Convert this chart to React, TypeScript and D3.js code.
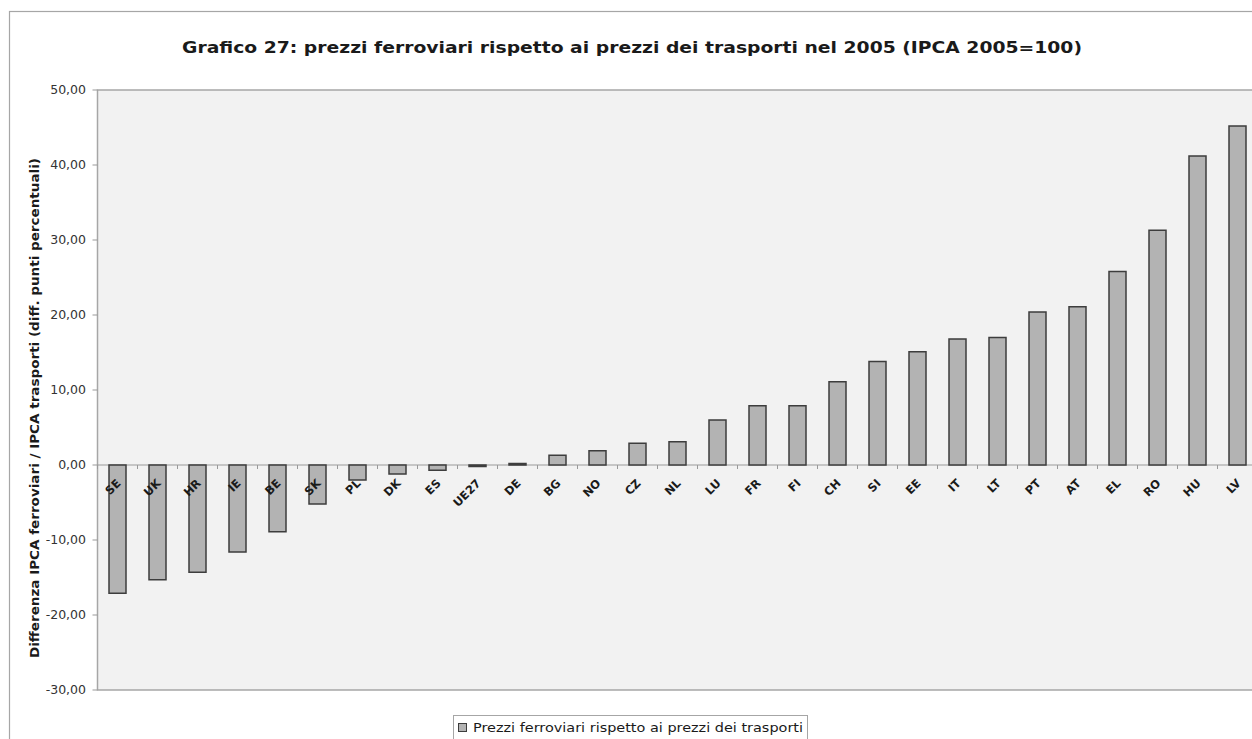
import React from "react";
import * as d3 from "d3";

const categories = ["SE", "UK", "HR", "IE", "BE", "SK", "PL", "DK", "ES", "UE27", "DE", "BG", "NO", "CZ", "NL", "LU", "FR", "FI", "CH", "SI", "EE", "IT", "LT", "PT", "AT", "EL", "RO", "HU", "LV"];
const values = [-17.1, -15.3, -14.3, -11.6, -8.9, -5.2, -2.0, -1.2, -0.7, -0.2, 0.2, 1.3, 1.9, 2.9, 3.1, 6.0, 7.9, 7.9, 11.1, 13.8, 15.1, 16.8, 17.0, 20.4, 21.1, 25.8, 31.3, 41.2, 45.2];
const yTicks = [50, 40, 30, 20, 10, 0, -10, -20, -30];
const title = "Grafico 27: prezzi ferroviari rispetto ai prezzi dei trasporti nel 2005 (IPCA 2005=100)";
const yTitle = "Differenza IPCA ferroviari / IPCA trasporti (diff. punti percentuali)";
const legendLabel = "Prezzi ferroviari rispetto ai prezzi dei trasporti";

const W = 1252, H = 739;
const plot = { left: 97.5, top: 90, right: 1257.5, bottom: 690 };
const font = "'DejaVu Sans', Verdana, sans-serif";

export default function App() {
  const x = d3.scaleBand<string>().domain(categories).range([plot.left, plot.right]);
  const y = d3.scaleLinear().domain([-30, 50]).range([plot.bottom, plot.top]);
  const fmt = (v: number) => d3.format(".2f")(v).replace(".", ",").replace("−", "-");
  const barW = 17;
  const y0 = y(0);
  const k = Math.SQRT1_2;
  return (
    <svg width={W} height={H} style={{ position: "absolute", left: 0, top: 0, background: "#fff" }}>
      <rect x={9.5} y={11.5} width={W + 20} height={H + 20} fill="#fff" stroke="#a6a6a6" strokeWidth={1.2} />
      <text x={632} y={53} textAnchor="middle" textLength={900} lengthAdjust="spacingAndGlyphs" fontFamily={font} fontWeight="bold" fontSize={15} fill="#1a1a1a">{title}</text>
      <rect x={plot.left} y={plot.top} width={plot.right - plot.left} height={plot.bottom - plot.top} fill="#f2f2f2" stroke="#a6a6a6" strokeWidth={1.5} />
      {yTicks.map((t) => (
        <g key={t}>
          <line x1={plot.left - 5} x2={plot.left} y1={y(t)} y2={y(t)} stroke="#999" strokeWidth={1} />
          <text x={86} y={y(t)} dy="0.35em" textAnchor="end" fontFamily={font} fontSize={12.5} fill="#333">{fmt(t)}</text>
        </g>
      ))}
      <line x1={plot.left} x2={plot.right} y1={y0} y2={y0} stroke="#999" strokeWidth={1.2} />
      {categories.map((c) => (
        <line key={"tk" + c} x1={x(c) as number} x2={x(c) as number} y1={y0} y2={y0 + 4} stroke="#999" strokeWidth={1} />
      ))}
      {categories.map((c, i) => {
        const cx = (x(c) as number) + x.bandwidth() / 2;
        const v = values[i];
        const top = Math.min(y(v), y0);
        const h = Math.abs(y(v) - y0);
        return (
          <rect key={"b" + c} x={cx - barW / 2} y={top} width={barW} height={Math.max(h, 1)} fill="#b3b3b3" stroke="#3d3d3d" strokeWidth={1.5} />
        );
      })}
      {categories.map((c) => {
        const cx = (x(c) as number) + x.bandwidth() / 2;
        return (
          <text key={"l" + c} transform={`matrix(${k},${-k},${k},${k},${cx + 4},${y0 + 19})`} x={0} y={0} textAnchor="end" fontFamily={font} fontWeight="bold" fontSize={11.5} fill="#1a1a1a">{c}</text>
        );
      })}
      <g transform={`translate(39,408) rotate(-90)`}>
        <text x={0} y={0} textAnchor="middle" textLength={500} lengthAdjust="spacingAndGlyphs" fontFamily={font} fontWeight="bold" fontSize={11.5} fill="#1a1a1a">{yTitle}</text>
      </g>
      <rect x={453.5} y={715.5} width={354} height={30} fill="#fff" stroke="#a6a6a6" strokeWidth={1} />
      <rect x={458.5} y={723.5} width={8} height={8} fill="#b3b3b3" stroke="#3d3d3d" strokeWidth={1} />
      <text x={473} y={732} textLength={330} lengthAdjust="spacingAndGlyphs" fontFamily={font} fontSize={12.5} fill="#1a1a1a">{legendLabel}</text>
    </svg>
  );
}
